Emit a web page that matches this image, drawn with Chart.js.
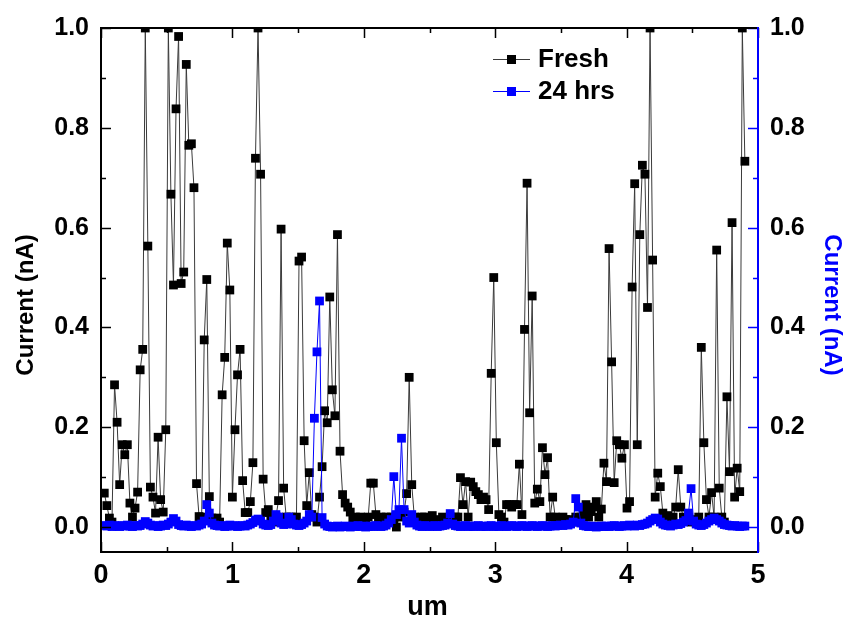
<!DOCTYPE html>
<html>
<head>
<meta charset="utf-8">
<script src="https://cdn.jsdelivr.net/npm/chart.js@4/dist/chart.umd.min.js"></script>
<style>
  html, body { margin: 0; padding: 0; background: #fff; }
  #wrap { width: 846px; height: 622px; }
</style>
</head>
<body>
<div id="wrap"><canvas id="chart" width="846" height="622"></canvas></div>
<script>
// current along the scan line, one value per sample (nA)
const freshCurrent = [
  0.068, 0.043, 0.018, 0.01, 0.285, 0.21, 0.085, 0.165, 0.145, 0.165,
  0.048, 0.02, 0.038, 0.07, 0.315, 0.356, 1.0, 0.563, 0.08, 0.06,
  0.028, 0.18, 0.055, 0.03, 0.195, 1.0, 0.667, 0.485, 0.838, 0.983,
  0.488, 0.511, 0.927, 0.765, 0.768, 0.68, 0.087, 0.021, 0.02, 0.375,
  0.496, 0.061, 0.018, 0.01, 0.018, 0.01, 0.265, 0.34, 0.569, 0.475,
  0.06, 0.195, 0.305, 0.356, 0.093, 0.029, 0.029, 0.051, 0.129, 0.739,
  1.0, 0.707, 0.096, 0.029, 0.035, 0.02, 0.01, 0.021, 0.053, 0.597,
  0.078, 0.02, 0.01, 0.02, 0.01, 0.02, 0.533, 0.541, 0.173, 0.043,
  0.109, 0.025, 0.02, 0.01, 0.06, 0.121, 0.233, 0.209, 0.461, 0.275,
  0.223, 0.586, 0.152, 0.065, 0.048, 0.04, 0.03, 0.018, 0.02, 0.015,
  0.02, 0.01, 0.015, 0.02, 0.088, 0.088, 0.025, 0.015, 0.02, 0.01,
  0.02, 0.015, 0.02, 0.01, 0.0, 0.02, 0.025, 0.03, 0.067, 0.30,
  0.085, 0.02, 0.015, 0.01, 0.02, 0.02, 0.01, 0.015, 0.023, 0.01,
  0.015, 0.01, 0.02, 0.015, 0.01, 0.02, 0.015, 0.02, 0.02, 0.099,
  0.045, 0.091, 0.02, 0.09, 0.081, 0.071, 0.065, 0.055, 0.06, 0.055,
  0.035, 0.308, 0.50, 0.169, 0.025, 0.02, 0.01, 0.045, 0.045, 0.04,
  0.045, 0.045, 0.126, 0.025, 0.396, 0.689, 0.229, 0.463, 0.048, 0.076,
  0.051, 0.159, 0.105, 0.139, 0.02, 0.06, 0.02, 0.015, 0.01, 0.02,
  0.015, 0.01, 0.015, 0.01, 0.02, 0.015, 0.02, 0.03, 0.045, 0.02,
  0.031, 0.04, 0.051, 0.02, 0.036, 0.128, 0.091, 0.558, 0.331, 0.089,
  0.173, 0.165, 0.138, 0.165, 0.038, 0.051, 0.481, 0.688, 0.165, 0.586,
  0.725, 0.707, 0.44, 1.0, 0.535, 0.06, 0.108, 0.081, 0.028, 0.02,
  0.023, 0.015, 0.02, 0.04, 0.115, 0.04, 0.02, 0.015, 0.02, 0.01,
  0.015, 0.01, 0.02, 0.36, 0.169, 0.055, 0.02, 0.069, 0.02, 0.555,
  0.078, 0.02, 0.01, 0.261, 0.111, 0.61, 0.06, 0.118, 0.071, 1.0,
  0.733
];

const agedCurrent = [
  0.003, 0.002, 0.004, 0.001, 0.003, 0.002, 0.001, 0.003, 0.002, 0.004,
  0.002, 0.001, 0.003, 0.002, 0.003, 0.006, 0.011, 0.008, 0.004, 0.002,
  0.003, 0.001, 0.002, 0.004, 0.003, 0.006, 0.010, 0.017, 0.012, 0.005,
  0.003, 0.002, 0.004, 0.002, 0.001, 0.003, 0.002, 0.004, 0.006, 0.012,
  0.045, 0.028, 0.008, 0.004, 0.003, 0.002, 0.003, 0.001, 0.002, 0.004,
  0.002, 0.003, 0.001, 0.002, 0.003, 0.002, 0.004, 0.006, 0.009, 0.014,
  0.016, 0.012, 0.006, 0.004, 0.003, 0.005, 0.012, 0.025, 0.020, 0.008,
  0.005, 0.006, 0.020, 0.015, 0.006, 0.004, 0.003, 0.005, 0.008, 0.012,
  0.025, 0.020, 0.218, 0.351, 0.453, 0.019, 0.006, 0.002, 0.001, 0.000,
  0.001, 0.002, 0.000, 0.001, 0.002, 0.001, 0.000, 0.002, 0.001, 0.003,
  0.001, 0.002, 0.000, 0.001, 0.002, 0.001, 0.003, 0.002, 0.001, 0.002,
  0.004, 0.008, 0.015, 0.101, 0.025, 0.035, 0.178, 0.035, 0.012, 0.008,
  0.025, 0.010, 0.004, 0.002, 0.001, 0.003, 0.002, 0.001, 0.002, 0.003,
  0.001, 0.002, 0.003, 0.004, 0.008, 0.027, 0.006, 0.003, 0.002, 0.001,
  0.002, 0.003, 0.001, 0.002, 0.001, 0.002, 0.003, 0.001, 0.002, 0.001,
  0.002, 0.003, 0.001, 0.002, 0.001, 0.003, 0.002, 0.001, 0.002, 0.003,
  0.002, 0.001, 0.002, 0.003, 0.002, 0.001, 0.002, 0.003, 0.002, 0.001,
  0.002, 0.003, 0.002, 0.001, 0.002, 0.003, 0.002, 0.003, 0.004, 0.003,
  0.005, 0.004, 0.006, 0.010, 0.057, 0.040, 0.008, 0.003, 0.002, 0.001,
  0.002, 0.001, 0.000, 0.001, 0.002, 0.001, 0.002, 0.001, 0.002, 0.003,
  0.002, 0.001, 0.002, 0.003, 0.002, 0.004, 0.003, 0.002, 0.004, 0.003,
  0.005, 0.006, 0.008, 0.012, 0.015, 0.018, 0.016, 0.010, 0.006, 0.004,
  0.003, 0.002, 0.004, 0.006, 0.005, 0.007, 0.010, 0.013, 0.028, 0.077,
  0.012, 0.006, 0.004, 0.003, 0.005, 0.008, 0.012, 0.015, 0.018, 0.015,
  0.012, 0.008, 0.005, 0.004, 0.003, 0.002, 0.003, 0.002, 0.001, 0.002,
  0.002
];

// scan sampling (um)
const X_START = 0.025;
const X_STEP = 0.0195;

const seriesLabels = ["Fresh", "24 hrs"];
const xTickValues = [0, 1, 2, 3, 4, 5];
const yTickValues = [0, 0.2, 0.4, 0.6, 0.8, 1.0];

const FONT = "'Liberation Sans', Arial, sans-serif";
const BLUE = "#0000ff";

function toPoints(values) {
  return values.map((v, i) => ({ x: X_START + i * X_STEP, y: v }));
}

// frame, inward ticks, axis titles and legend
const decorations = {
  id: "decorations",
  afterDatasetsDraw(chart) {
    const ctx = chart.ctx;
    const a = chart.chartArea;
    const xs = chart.scales.x;
    const ys = chart.scales.y;

    ctx.save();
    ctx.lineCap = "butt";

    // x ticks (bottom up, top down)
    ctx.strokeStyle = "#000";
    ctx.lineWidth = 1.5;
    for (let v = 0; v <= 5.001; v += 0.5) {
      const px = Math.round(xs.getPixelForValue(v)) + 0.5;
      const len = Math.abs(v - Math.round(v)) < 0.01 ? 10 : 5;
      ctx.beginPath();
      ctx.moveTo(px, a.bottom);
      ctx.lineTo(px, a.bottom - len);
      ctx.moveTo(px, a.top);
      ctx.lineTo(px, a.top + len);
      ctx.stroke();
    }
    // y ticks
    for (let k = 0; k <= 10; k++) {
      const v = k / 10;
      const py = Math.round(ys.getPixelForValue(v)) + 0.5;
      const len = k % 2 === 0 ? 10 : 5;
      ctx.strokeStyle = "#000";
      ctx.beginPath();
      ctx.moveTo(a.left, py);
      ctx.lineTo(a.left + len, py);
      ctx.stroke();
      ctx.strokeStyle = BLUE;
      ctx.beginPath();
      ctx.moveTo(a.right, py);
      ctx.lineTo(a.right - len, py);
      ctx.stroke();
    }

    // frame
    ctx.lineWidth = 2;
    ctx.strokeStyle = "#000";
    ctx.beginPath();
    ctx.moveTo(a.right, a.top);
    ctx.lineTo(a.left, a.top);
    ctx.lineTo(a.left, a.bottom);
    ctx.lineTo(a.right, a.bottom);
    ctx.stroke();
    ctx.strokeStyle = BLUE;
    ctx.beginPath();
    ctx.moveTo(a.right, a.top - 1);
    ctx.lineTo(a.right, a.bottom + 1);
    ctx.stroke();

    // axis titles
    ctx.textAlign = "center";
    ctx.textBaseline = "middle";
    ctx.font = "bold 24px " + FONT;
    ctx.fillStyle = "#000";
    ctx.save();
    ctx.translate(26, 305);
    ctx.rotate(-Math.PI / 2);
    ctx.fillText("Current (nA)", 0, 0);
    ctx.restore();
    ctx.fillStyle = BLUE;
    ctx.save();
    ctx.translate(832, 305);
    ctx.rotate(Math.PI / 2);
    ctx.fillText("Current (nA)", 0, 0);
    ctx.restore();
    ctx.fillStyle = "#000";
    ctx.font = "bold 27px " + FONT;
    ctx.fillText("um", (a.left + a.right) / 2 - 2, 608);

    // legend
    ctx.textAlign = "left";
    ctx.font = "bold 26px " + FONT;
    chart.data.datasets.forEach((ds, i) => {
      const y = 59 + i * 32;
      ctx.strokeStyle = ds.borderColor;
      ctx.lineWidth = 1;
      ctx.beginPath();
      ctx.moveTo(493, y + 0.5);
      ctx.lineTo(530, y + 0.5);
      ctx.stroke();
      ctx.fillStyle = ds.pointBackgroundColor;
      ctx.fillRect(507, y - 4, 9, 9);
      ctx.fillStyle = "#000";
      ctx.fillText(ds.label, 538, y + 1);
    });
    ctx.restore();
  }
};

new Chart(document.getElementById("chart"), {
  type: "line",
  data: {
    datasets: [
      {
        label: seriesLabels[0],
        data: toPoints(freshCurrent),
        borderColor: "#3a3a3a",
        borderWidth: 1,
        pointStyle: "rect",
        pointRadius: 6.2,
        pointBorderWidth: 0,
        pointBackgroundColor: "#000000",
        yAxisID: "y",
        order: 2,
        clip: 0
      },
      {
        label: seriesLabels[1],
        data: toPoints(agedCurrent),
        borderColor: BLUE,
        borderWidth: 1,
        pointStyle: "rect",
        pointRadius: 6.2,
        pointBorderWidth: 0,
        pointBackgroundColor: BLUE,
        yAxisID: "y2",
        order: 1,
        clip: 0
      }
    ]
  },
  options: {
    responsive: false,
    animation: false,
    layout: { padding: { top: 28, left: 0, right: 0, bottom: 0 } },
    plugins: {
      legend: { display: false },
      tooltip: { enabled: false }
    },
    scales: {
      x: {
        type: "linear",
        min: 0,
        max: 5,
        grid: { display: false, drawTicks: false },
        border: { display: false },
        afterBuildTicks: (s) => { s.ticks = xTickValues.map((v) => ({ value: v })); },
        afterFit: (s) => { s.height = 70; },
        ticks: {
          padding: 7,
          color: "#000",
          font: { family: FONT, size: 27, weight: "bold" },
          callback: (v) => String(v)
        }
      },
      y: {
        position: "left",
        min: -0.05,
        max: 1.0,
        grid: { display: false, drawTicks: false },
        border: { display: false },
        afterBuildTicks: (s) => { s.ticks = yTickValues.map((v) => ({ value: v })); },
        afterFit: (s) => { s.width = 101; },
        ticks: {
          padding: 12,
          color: "#000",
          font: { family: FONT, size: 25, weight: "bold" },
          callback: (v) => Number(v).toFixed(1)
        }
      },
      y2: {
        position: "right",
        min: -0.05,
        max: 1.0,
        grid: { display: false, drawTicks: false },
        border: { display: false },
        afterBuildTicks: (s) => { s.ticks = yTickValues.map((v) => ({ value: v })); },
        afterFit: (s) => { s.width = 88; },
        ticks: {
          padding: 12,
          color: "#000",
          font: { family: FONT, size: 25, weight: "bold" },
          callback: (v) => Number(v).toFixed(1)
        }
      }
    }
  },
  plugins: [decorations]
});
</script>
</body>
</html>
